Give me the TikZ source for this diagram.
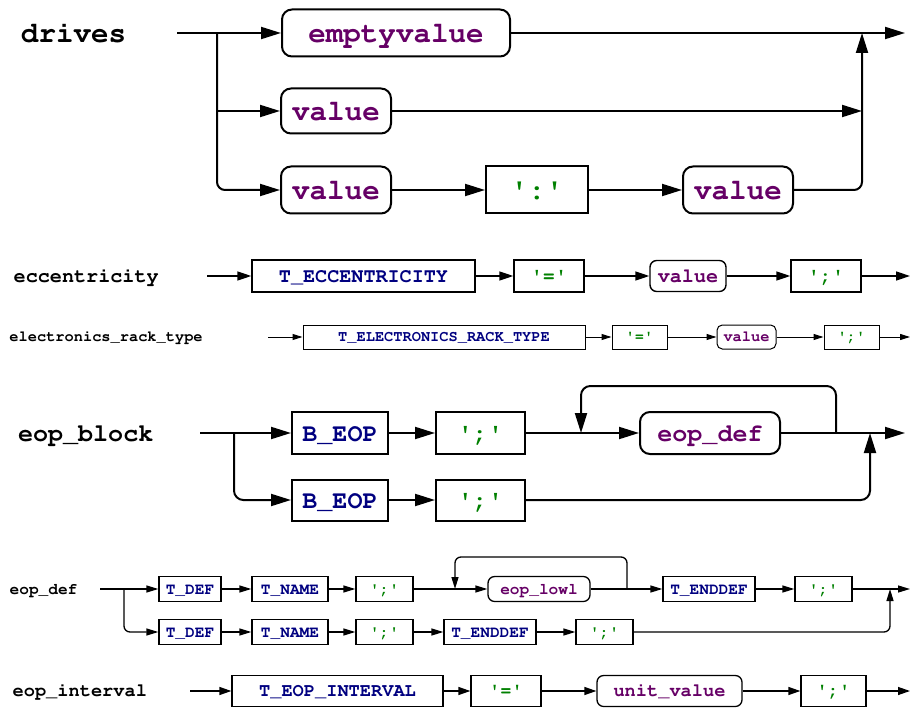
\documentclass[tikz,border=0pt]{standalone}
\usepackage[T1]{fontenc}
\usetikzlibrary{arrows.meta}
\definecolor{ntcol}{RGB}{102,0,102}
\definecolor{tokcol}{RGB}{0,0,128}
\definecolor{litcol}{RGB}{0,128,0}
\newcommand{\sq}{\textquotesingle}
\newcommand{\fsz}[1]{\fontfamily{pcr}\fontseries{b}\fontsize{#1}{#1}\selectfont}
\tikzset{
  base/.style={draw, inner sep=0pt, tx},
  nt/.style={base, rounded corners=#1, text=ntcol},
  tok/.style={base, text=tokcol},
  lit/.style={base, text=litcol},
  sz/.style 2 args={minimum width=#1*0.75pt, minimum height=#2*0.75pt},
  lbl/.style={anchor=west, inner sep=0pt, tx},
  sect/.style n args={4}{font=\fsz{#1}, line width=#2*0.75pt,
     tx/.style={text height=#1*0.78pt, text depth=#1*0.14pt},
     arr/.style={-{Triangle[length=#3*0.75pt, width=#4*0.75pt]}}},
}
\begin{document}
\begin{tikzpicture}[x=0.75pt, y=-0.75pt]
\useasboundingbox (0,0) rectangle (910,709);

% ---- drives ----
\begin{scope}[sect={21.9}{2}{20}{12}, rc/.style={rounded corners=6pt}]
  \node[lbl] (Ldr) at (20,33) {drives};
  \coordinate (in) at (177,33);
  \coordinate (j1) at (217,33);
  \coordinate (jr) at (862,33);
  \coordinate (out) at (905,33);
  \node[nt=7.5pt, sz={228}{47}] (ev) at (396,33) {emptyvalue};
  \node[nt=7.5pt, sz={110}{45}] (v2) at (336,111) {value};
  \node[nt=7.5pt, sz={110}{47}] (v3) at (336,190) {value};
  \node[lit, sz={102}{47}] (c1) at (537,190) {\sq:\sq};
  \node[nt=7.5pt, sz={110}{47}] (v4) at (738,190) {value};
  \draw[arr] (in) -- (ev);
  \draw[arr] (ev) -- (out);
  \draw[arr] (j1 |- v2) -- (v2);
  \draw[arr, rc] (j1) |- (v3);
  \draw[arr] (v2) -- (v2 -| jr);
  \draw[arr] (v3) -- (c1);
  \draw[arr] (c1) -- (v4);
  \draw[arr, rc] (v4) -| (jr);
\end{scope}

% ---- eccentricity ----
\begin{scope}[sect={15.1}{1.4}{14}{9}]
  \node[lbl] (Lec) at (13,276) {eccentricity};
  \coordinate (e0) at (207,276);
  \coordinate (e9) at (910,276);
  \node[tok, sz={223}{32}] (tE) at (363.5,276) {T\_ECCENTRICITY};
  \node[lit, sz={70}{32}] (eq) at (549,276) {\sq=\sq};
  \node[nt=5pt, sz={76}{31}] (ve) at (688,276) {value};
  \node[lit, sz={70}{32}] (sc) at (826,276) {\sq;\sq};
  \draw[arr] (e0) -- (tE);
  \draw[arr] (tE) -- (eq);
  \draw[arr] (eq) -- (ve);
  \draw[arr] (ve) -- (sc);
  \draw[arr] (sc) -- (e9);
\end{scope}

% ---- electronics_rack_type ----
\begin{scope}[sect={11.5}{1}{10}{6}]
  \node[lbl] (Lrt) at (9,337) {electronics\_rack\_type};
  \coordinate (r0) at (268,337);
  \coordinate (r9) at (910,337);
  \node[tok, sz={282}{24}] (tR) at (444,337) {T\_ELECTRONICS\_RACK\_TYPE};
  \node[lit, sz={55}{24}] (req) at (639.5,337) {\sq=\sq};
  \node[nt=4pt, sz={59}{24}] (rv) at (746.5,337) {value};
  \node[lit, sz={55}{24}] (rsc) at (851.5,337) {\sq;\sq};
  \draw[arr] (r0) -- (tR);
  \draw[arr] (tR) -- (req);
  \draw[arr] (req) -- (rv);
  \draw[arr] (rv) -- (rsc);
  \draw[arr] (rsc) -- (r9);
\end{scope}

% ---- eop_block ----
\begin{scope}[sect={18.8}{2}{20}{12}, rc/.style={rounded corners=7pt}]
  \node[lbl] (Leb) at (17,433) {eop\_block};
  \coordinate (b0) at (200,433);
  \coordinate (jb) at (234,433);
  \coordinate (lp1) at (581,433);
  \coordinate (lt) at (581,386);
  \coordinate (lp2) at (836,433);
  \coordinate (jo) at (870,433);
  \coordinate (bo) at (905,433);
  \node[tok, sz={96}{42}] (b1) at (340,433) {B\_EOP};
  \node[lit, sz={89}{42}] (s1) at (480.5,433) {\sq;\sq};
  \node[nt=7.5pt, sz={140}{42}] (ed) at (710,433) {eop\_def};
  \node[tok, sz={96}{41}] (b2) at (340,500) {B\_EOP};
  \node[lit, sz={89}{41}] (s2) at (480.5,500) {\sq;\sq};
  \draw[arr] (b0) -- (b1);
  \draw[arr, rc] (jb) |- (b2);
  \draw[arr] (b1) -- (s1);
  \draw[arr] (s1) -- (ed);
  \draw[arr] (ed) -- (bo);
  \draw[arr, rc] (lp2) |- (lt) -- (lp1);
  \draw[arr] (b2) -- (s2);
  \draw[arr, rc] (s2) -| (jo);
\end{scope}

% ---- eop_def ----
\begin{scope}[sect={12.1}{1.3}{12}{7}, rc/.style={rounded corners=4.5pt}]
  \node[lbl] (Led) at (9,589) {eop\_def};
  \coordinate (d0) at (100,589);
  \coordinate (jd) at (124,589);
  \coordinate (dl1) at (455,589);
  \coordinate (dlt) at (455,557);
  \coordinate (dl2) at (627,589);
  \coordinate (dj) at (890,589);
  \coordinate (d9) at (910,589);
  \node[tok, sz={62}{25}] (d1) at (190,589) {T\_DEF};
  \node[tok, sz={76}{25}] (d2) at (290,589) {T\_NAME};
  \node[lit, sz={57}{25}] (d3) at (384.5,589) {\sq;\sq};
  \node[nt=5pt, sz={102}{25}] (dl) at (539,589) {eop\_lowl};
  \node[tok, sz={92}{25}] (d4) at (709,589) {T\_ENDDEF};
  \node[lit, sz={57}{25}] (d5) at (823.5,589) {\sq;\sq};
  \node[tok, sz={62}{25}] (f1) at (190,632) {T\_DEF};
  \node[tok, sz={76}{25}] (f2) at (290,632) {T\_NAME};
  \node[lit, sz={57}{25}] (f3) at (384.5,632) {\sq;\sq};
  \node[tok, sz={92}{25}] (f4) at (490,632) {T\_ENDDEF};
  \node[lit, sz={57}{25}] (f5) at (604.5,632) {\sq;\sq};
  \draw[arr] (d0) -- (d1);
  \draw[arr] (d1) -- (d2);
  \draw[arr] (d2) -- (d3);
  \draw[arr] (d3) -- (dl);
  \draw[arr] (dl) -- (d4);
  \draw[arr, rc] (dl2) |- (dlt) -- (dl1);
  \draw[arr] (d4) -- (d5);
  \draw[arr] (d5) -- (d9);
  \draw[arr, rc] (jd) |- (f1);
  \draw[arr] (f1) -- (f2);
  \draw[arr] (f2) -- (f3);
  \draw[arr] (f3) -- (f4);
  \draw[arr] (f4) -- (f5);
  \draw[arr, rc] (f5) -| (dj);
\end{scope}

% ---- eop_interval ----
\begin{scope}[sect={14}{1.3}{12}{8}]
  \node[lbl] (Lei) at (12,691) {eop\_interval};
  \coordinate (i0) at (190,691);
  \coordinate (i9) at (910,691);
  \node[tok, sz={211}{31}] (i1) at (337.5,691) {T\_EOP\_INTERVAL};
  \node[lit, sz={70}{31}] (i2) at (506,691) {\sq=\sq};
  \node[nt=5pt, sz={145}{31}] (i3) at (669.5,691) {unit\_value};
  \node[lit, sz={65}{31}] (i4) at (833.5,691) {\sq;\sq};
  \draw[arr] (i0) -- (i1);
  \draw[arr] (i1) -- (i2);
  \draw[arr] (i2) -- (i3);
  \draw[arr] (i3) -- (i4);
  \draw[arr] (i4) -- (i9);
\end{scope}
\end{tikzpicture}
\end{document}
